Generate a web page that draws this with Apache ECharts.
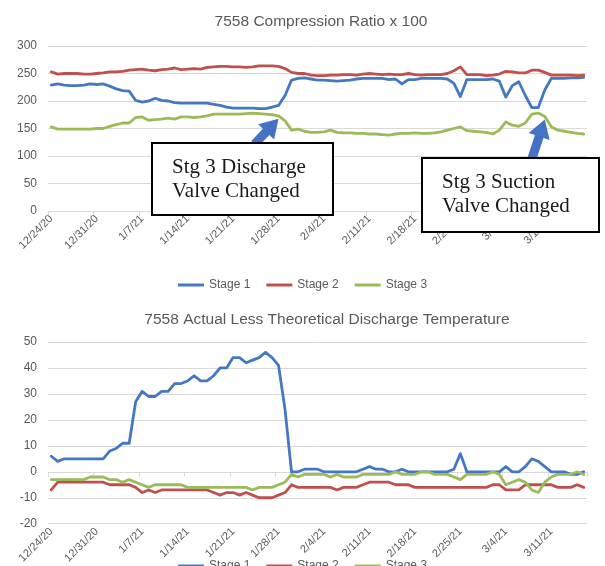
<!DOCTYPE html>
<html>
<head>
<meta charset="utf-8">
<script src="https://cdn.jsdelivr.net/npm/echarts@6/dist/echarts.min.js"></script>
<style>
  html, body { margin: 0; padding: 0; background: #ffffff; }
  #chart { width: 605px; height: 566px; }
</style>
</head>
<body>
<div id="chart"></div>
<script>
// Daily readings, unit 7558
const dates = [
  '12/24/20','12/25/20','12/26/20','12/27/20','12/28/20','12/29/20','12/30/20','12/31/20',
  '1/1/21','1/2/21','1/3/21','1/4/21','1/5/21','1/6/21','1/7/21','1/8/21','1/9/21','1/10/21',
  '1/11/21','1/12/21','1/13/21','1/14/21','1/15/21','1/16/21','1/17/21','1/18/21','1/19/21',
  '1/20/21','1/21/21','1/22/21','1/23/21','1/24/21','1/25/21','1/26/21','1/27/21','1/28/21',
  '1/29/21','1/30/21','1/31/21','2/1/21','2/2/21','2/3/21','2/4/21','2/5/21','2/6/21','2/7/21',
  '2/8/21','2/9/21','2/10/21','2/11/21','2/12/21','2/13/21','2/14/21','2/15/21','2/16/21',
  '2/17/21','2/18/21','2/19/21','2/20/21','2/21/21','2/22/21','2/23/21','2/24/21','2/25/21',
  '2/26/21','2/27/21','2/28/21','3/1/21','3/2/21','3/3/21','3/4/21','3/5/21','3/6/21','3/7/21',
  '3/8/21','3/9/21','3/10/21','3/11/21','3/12/21','3/13/21','3/14/21','3/15/21','3/16/21'
];

const stageNames = ['Stage 1', 'Stage 2', 'Stage 3'];

// Compression ratio x 100
const stage1Ratio = [
  229,231,229,228,228,229,231,230,231,227,
  222,219,218,201,198,200,205,201,200,197,
  196,196,196,196,196,194,192,189,187,187,
  187,187,186,186,189,192,210,238,241,242,
  240,238,238,237,236,237,238,240,241,241,
  241,241,239,240,231,239,239,241,241,241,
  241,240,232,208,239,239,239,239,240,236,
  207,228,235,210,188,188,220,241,241,241,
  242,242,243
];
const stage2Ratio = [
  253,249,250,250,250,249,249,250,251,253,
  253,254,256,257,258,256,255,257,258,260,
  257,258,259,258,261,262,263,263,262,262,
  261,262,264,264,264,263,259,252,250,250,
  247,246,246,247,247,248,248,247,249,250,
  249,248,249,248,248,250,248,247,248,248,
  248,250,255,262,248,248,248,246,247,249,
  254,253,251,251,256,256,252,247,247,247,
  247,246,247
];
const stage3Ratio = [
  153,149,149,149,149,149,149,150,150,154,
  157,160,160,170,171,165,166,167,169,167,
  171,171,170,171,173,176,176,176,176,176,
  177,178,177,176,175,173,164,147,149,145,
  143,143,144,147,143,142,142,141,141,140,
  140,139,138,140,141,141,142,141,141,142,
  144,147,150,153,146,145,144,143,140,147,
  162,156,154,160,176,178,172,153,147,145,
  143,141,140
];

// Actual less theoretical discharge temperature
const stage1Temp = [
  6,4,5,5,5,5,5,5,5,8,
  9,11,11,27,31,29,29,31,31,34,
  34,35,37,35,35,37,40,40,44,44,
  42,43,44,46,44,41,24,0,0,1,
  1,1,0,0,0,0,0,0,1,2,
  1,1,0,0,1,0,0,0,0,0,
  0,0,1,7,0,0,0,0,0,0,
  2,0,0,2,5,4,2,0,0,0,
  -1,-1,0
];
const stage2Temp = [
  -7,-4,-4,-4,-4,-4,-4,-4,-4,-5,
  -5,-5,-5,-6,-8,-7,-8,-7,-7,-7,
  -7,-7,-7,-7,-7,-8,-9,-8,-8,-9,
  -8,-9,-10,-10,-10,-9,-8,-5,-6,-6,
  -6,-6,-6,-6,-7,-6,-6,-6,-5,-4,
  -4,-4,-4,-5,-5,-5,-6,-6,-6,-6,
  -6,-6,-6,-6,-6,-6,-6,-6,-5,-5,
  -7,-7,-7,-5,-5,-5,-5,-5,-6,-6,
  -6,-5,-6
];
const stage3Temp = [
  -3,-3,-3,-3,-3,-3,-2,-2,-2,-3,
  -3,-4,-3,-4,-5,-6,-5,-5,-5,-5,
  -5,-6,-6,-6,-6,-6,-6,-6,-6,-6,
  -6,-7,-6,-6,-6,-5,-4,-1,-2,-1,
  -1,-1,-1,-2,-1,-2,-2,-2,-1,-1,
  -1,-1,-1,0,-1,-1,-1,0,0,-1,
  -1,-1,-2,-3,-1,-1,-1,-1,0,-1,
  -5,-4,-3,-4,-7,-8,-4,-2,-1,-1,
  -1,0,-1
];

// Value axis ranges
const ratioAxis = { min: 0, max: 300, interval: 50 };
const tempAxis = { min: -20, max: 50, interval: 10 };

// Valve change events on the stage 3 ratio line
const valveNotes = [
  { date: '1/28/21', lines: ['Stg 3 Discharge', 'Valve Changed'] },
  { date: '3/10/21', lines: ['Stg 3 Suction', 'Valve Changed'] }
];

const palette = ['#4677c1', '#c0504d', '#9bbb59'];
const textGray = '#595959';
const gridGray = '#d9d9d9';
const uiFont = 'Liberation Sans, Arial, sans-serif';

function categoryAxis(gridIndex) {
  return {
    type: 'category',
    gridIndex: gridIndex,
    data: dates,
    boundaryGap: true,
    axisLine: { onZero: true, lineStyle: { color: gridGray, width: 1 } },
    axisTick: { show: true, interval: 6, length: 5, lineStyle: { color: gridGray } },
    axisLabel: {
      interval: 6, rotate: 45, margin: 6,
      color: textGray, fontSize: 11, fontFamily: uiFont
    },
    splitLine: { show: false }
  };
}

function valueAxis(gridIndex, range) {
  return {
    type: 'value',
    gridIndex: gridIndex,
    min: range.min, max: range.max, interval: range.interval,
    axisLine: { show: false },
    axisTick: { show: false },
    axisLabel: { color: textGray, fontSize: 12, fontFamily: uiFont, margin: 11 },
    splitLine: { lineStyle: { color: gridGray, width: 1 } }
  };
}

function lineSeries(name, data, axisIndex, colorIndex) {
  return {
    name: name,
    type: 'line',
    xAxisIndex: axisIndex,
    yAxisIndex: axisIndex,
    data: data,
    symbol: 'none',
    smooth: false,
    lineStyle: { width: 2.8, color: palette[colorIndex], join: 'round', cap: 'round' },
    itemStyle: { color: palette[colorIndex] },
    z: 3
  };
}

const legendBase = {
  data: stageNames,
  left: 'center',
  icon: 'rect',
  itemWidth: 26,
  itemHeight: 3,
  itemGap: 16,
  textStyle: { color: textGray, fontSize: 12, fontFamily: uiFont }
};

const chart = echarts.init(document.getElementById('chart'), null, { renderer: 'canvas' });

chart.setOption({
  animation: false,
  backgroundColor: '#ffffff',
  title: [
    {
      text: '7558 Compression Ratio x 100',
      left: 316, top: 9, textAlign: 'center',
      textStyle: { color: textGray, fontSize: 15.5, fontWeight: 'normal', fontFamily: uiFont }
    },
    {
      text: '7558 Actual Less Theoretical Discharge Temperature',
      left: 322, top: 307, textAlign: 'center',
      textStyle: { color: textGray, fontSize: 15.5, fontWeight: 'normal', fontFamily: uiFont }
    }
  ],
  legend: [
    Object.assign({}, legendBase, { top: 274 }),
    Object.assign({}, legendBase, { top: 555 })
  ],
  grid: [
    { left: 48, right: 18, top: 46, height: 165, containLabel: false },
    { left: 48, right: 18, top: 342, height: 194, containLabel: false }
  ],
  xAxis: [categoryAxis(0), categoryAxis(1)],
  yAxis: [valueAxis(0, ratioAxis), valueAxis(1, tempAxis)],
  series: [
    lineSeries(stageNames[0], stage1Ratio, 0, 0),
    lineSeries(stageNames[1], stage2Ratio, 0, 1),
    lineSeries(stageNames[2], stage3Ratio, 0, 2),
    lineSeries(stageNames[0], stage1Temp, 1, 0),
    lineSeries(stageNames[1], stage2Temp, 1, 1),
    lineSeries(stageNames[2], stage3Temp, 1, 2)
  ]
});

// Callout boxes with block arrows pointing at the stage 3 ratio on the change dates
function blockArrow(tail, tip) {
  const dx = tip[0] - tail[0], dy = tip[1] - tail[1];
  const len = Math.sqrt(dx * dx + dy * dy);
  const ux = dx / len, uy = dy / len;
  const nx = -uy, ny = ux;
  const shaft = 4.5, head = 11, headLen = 18;
  const bx = tip[0] - ux * headLen, by = tip[1] - uy * headLen;
  return [
    [tail[0] + nx * shaft, tail[1] + ny * shaft],
    [bx + nx * shaft, by + ny * shaft],
    [bx + nx * head, by + ny * head],
    [tip[0], tip[1]],
    [bx - nx * head, by - ny * head],
    [bx - nx * shaft, by - ny * shaft],
    [tail[0] - nx * shaft, tail[1] - ny * shaft]
  ];
}

const calloutBoxes = [
  { x: 152, y: 143, w: 181, h: 72, tailDx: -24 },
  { x: 422, y: 158, w: 177, h: 74, tailDx: -13 }
];

const graphics = [];
valveNotes.forEach(function (note, k) {
  const box = calloutBoxes[k];
  const idx = dates.indexOf(note.date);
  const pt = chart.convertToPixel({ seriesIndex: 2 }, [idx, stage3Ratio[idx]]);
  const tip = [pt[0], pt[1] + 3];
  const tail = [tip[0] + box.tailDx, box.y + 1];
  graphics.push({
    type: 'polygon',
    shape: { points: blockArrow(tail, tip) },
    style: { fill: '#4472c4', stroke: null },
    z: 20
  });
  graphics.push({
    type: 'rect',
    shape: { x: box.x, y: box.y, width: box.w, height: box.h },
    style: { fill: '#ffffff', stroke: '#000000', lineWidth: 2 },
    z: 21
  });
  note.lines.forEach(function (line, j) {
    graphics.push({
      type: 'text',
      x: box.x + 20,
      y: box.y + 24 + j * 24,
      style: {
        text: line,
        fill: '#1a1a1a',
        font: '21px "Liberation Serif", "Times New Roman", serif',
        textVerticalAlign: 'middle',
        verticalAlign: 'middle'
      },
      z: 22
    });
  });
});

chart.setOption({ graphic: graphics });
</script>
</body>
</html>
